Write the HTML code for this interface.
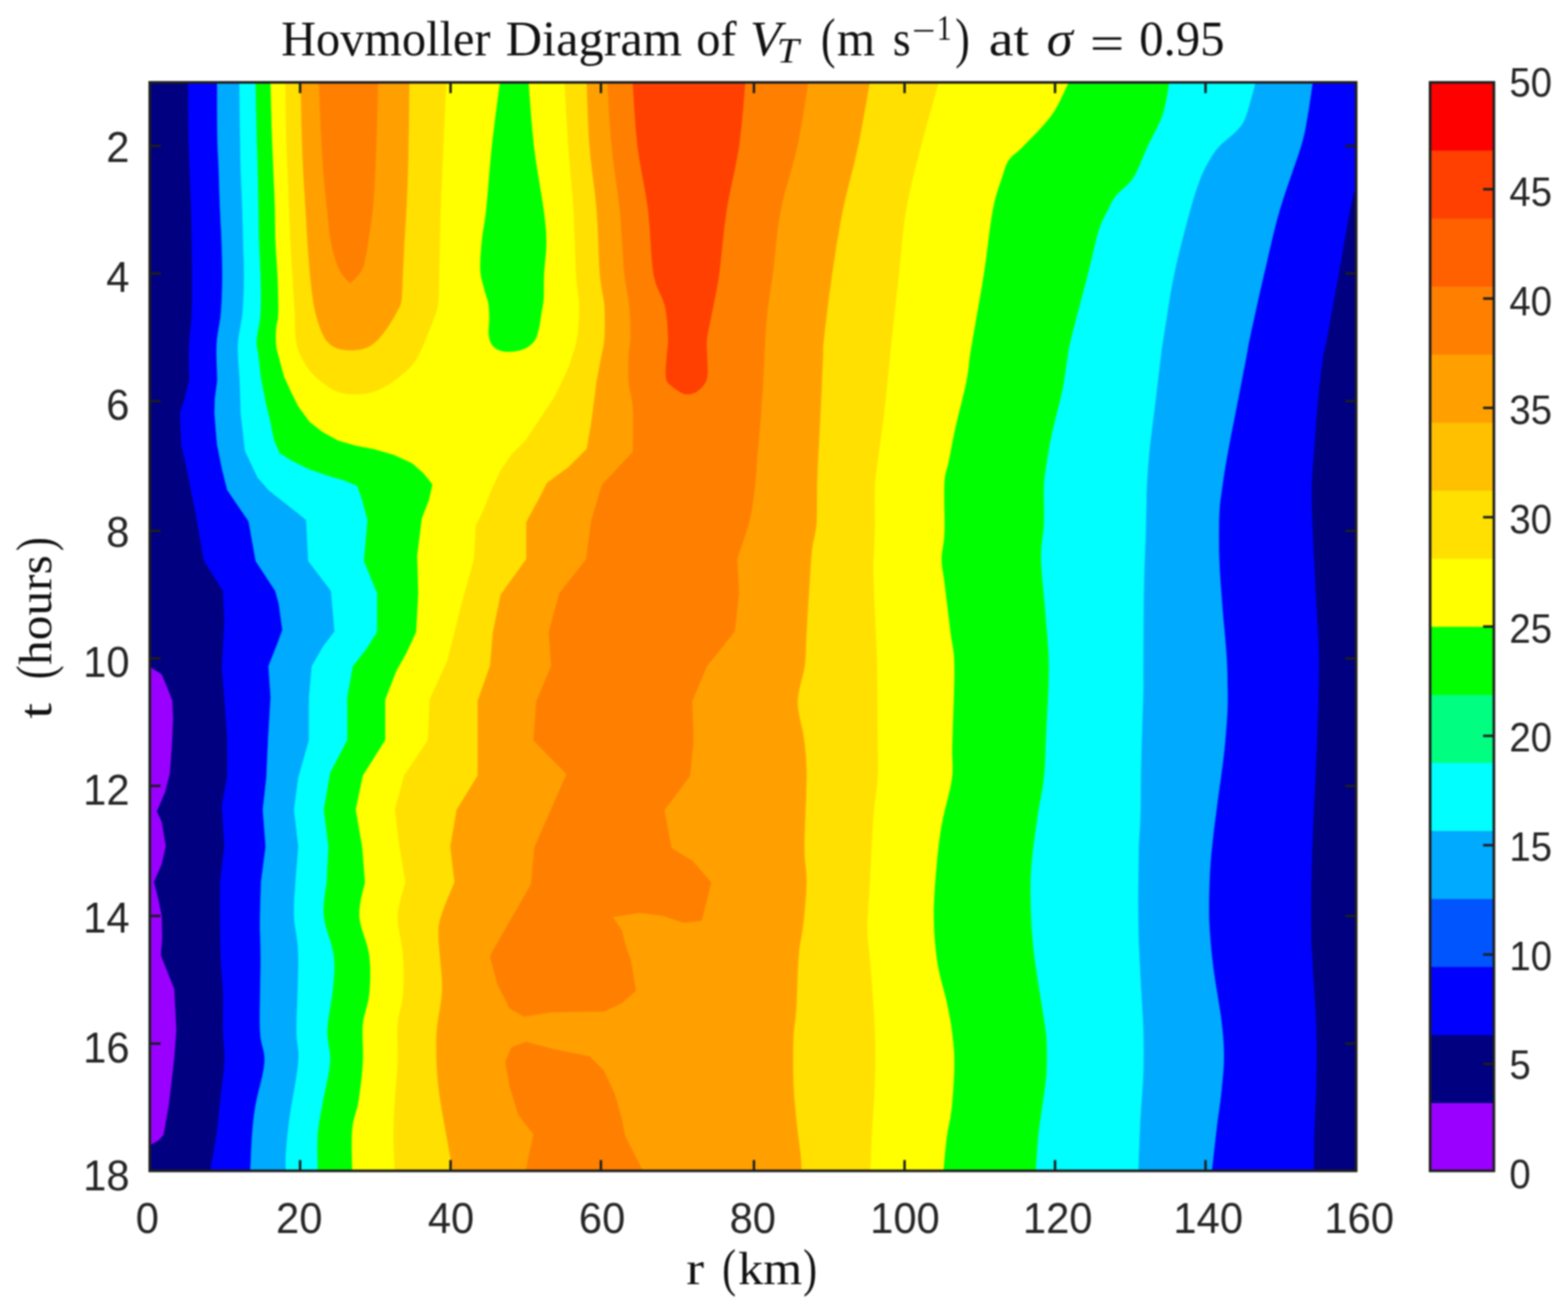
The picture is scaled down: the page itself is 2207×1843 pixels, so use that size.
<!DOCTYPE html>
<html lang="en"><head><meta charset="utf-8"><title>Hovmoller Diagram of VT at sigma = 0.95</title>
<style>
html,body{margin:0;padding:0;background:#fff;}
body{width:2207px;height:1843px;overflow:hidden;}
svg{display:block;}
.sans{font-family:"Liberation Sans",sans-serif;fill:#262626;}
.serif{font-family:"Liberation Serif",serif;fill:#111;}
</style></head><body>
<svg width="2207" height="1843" viewBox="0 0 2207 1843">
<rect x="0" y="0" width="2207" height="1843" fill="#ffffff"/>
<defs><clipPath id="plotclip"><rect x="210.8" y="116" width="1698" height="1532.5"/></clipPath>
<filter id="soft" x="0" y="0" width="2207" height="1843" filterUnits="userSpaceOnUse" color-interpolation-filters="sRGB"><feGaussianBlur stdDeviation="0.8"/></filter></defs>
<g filter="url(#soft)">
<rect x="-20" y="-20" width="2247" height="1883" fill="#ffffff"/>
<g clip-path="url(#plotclip)">
<rect x="208.8" y="114" width="1702" height="1536.5" fill="#000080"/>
<polygon fill="#0000ff" stroke="#0000ff" stroke-width="0.6" stroke-linejoin="round" points="265,110 265,109.9 265,109 265,108.4 265,108.7 265,111 265,116 265,124.7 265.1,136.5 265.2,150.2 265.2,164.6 265.4,178.3 265.5,190 265.7,199.7 265.9,208.4 266.2,216.5 266.4,224.2 266.7,231.9 267,240 267.3,248.3 267.7,256.6 268,264.9 268.4,273.3 268.7,281.6 269,290 269.2,298.5 269.4,307 269.6,315.5 269.7,324 269.9,332.5 270,341 270.1,349.4 270.2,357.7 270.3,366.1 270.4,374.4 270.5,382.7 270.5,391 270.5,399.3 270.5,407.7 270.5,416 270.5,424.3 270.3,432.7 270,441 269.5,449.4 268.8,457.9 267.9,466.4 267.1,474.8 266.4,483 266,491 265.8,499.2 265.9,507.7 266,516.1 266.2,523.8 266.4,530.3 266.5,535 260,562 253.5,581 255.5,627 264,665 275,720 284,772 287.5,790 314,832 316,875 312.5,940 316,982 320,1040 320,1092 312.5,1135 316,1192 310,1242 310,1248.4 310,1257.3 309.9,1267.9 309.9,1279.1 309.9,1290.1 310,1300 310.1,1308.8 310.2,1317.3 310.3,1325.5 310.5,1333.6 310.7,1341.8 311,1350 311.4,1358.3 312,1366.7 312.6,1375 313.1,1383.3 313.7,1391.7 314,1400 314.2,1408.4 314.1,1416.9 314.1,1425.3 314,1433.7 313.9,1442 314,1450 314.3,1457.7 314.8,1465 315.4,1472.2 315.9,1479.4 316.1,1487 316,1495 315.5,1503.7 314.6,1512.9 313.4,1522.4 312.2,1531.9 311,1541.2 310,1550 309.2,1558.2 308.4,1566.1 307.7,1573.7 306.9,1581.3 306.1,1589 305,1597 303.6,1605.9 302,1615.7 300.2,1625.6 298.5,1634.9 297,1642.9 296,1649 295.5,1652.7 295.3,1654.6 295.4,1655.2 295.7,1655.1 295.9,1654.9 296,1655 1849,1655 1849,1655 1849,1655.5 1848.9,1655.9 1848.9,1655.4 1848.9,1653.3 1849,1649 1849.1,1641.9 1849.2,1632.5 1849.3,1621.5 1849.5,1609.7 1849.7,1598 1850,1587 1850.4,1576.8 1850.8,1566.8 1851.3,1556.8 1851.8,1546.6 1852.2,1536.1 1852.5,1525 1852.7,1513.4 1852.9,1501.4 1853,1489.1 1853,1476.4 1852.8,1463.4 1852.5,1450 1851.9,1435.6 1851.1,1419.9 1850.1,1403.9 1849.1,1388.4 1848.2,1374.2 1847.5,1362 1847,1352.7 1846.5,1345.6 1846.2,1339.9 1845.9,1334.4 1845.7,1328.1 1845.5,1320 1845.4,1310 1845.3,1298.9 1845.2,1287.1 1845.3,1274.7 1845.4,1262.3 1845.5,1250 1845.7,1237.8 1846,1225.4 1846.3,1212.8 1846.6,1200.2 1847.1,1187.6 1847.5,1175 1848,1162.8 1848.5,1150.9 1849.1,1139.1 1849.7,1126.9 1850.4,1113.9 1851,1100 1851.7,1084.5 1852.4,1067.8 1853.2,1050.3 1853.9,1032.8 1854.5,1015.8 1855,1000 1855.4,985.4 1855.7,971.5 1856,958.1 1856.1,945.2 1856.1,932.5 1856,920 1855.7,908.1 1855.2,897 1854.6,886.2 1853.9,875.2 1853.2,863.3 1852.5,850 1851.7,834.6 1850.8,817.5 1849.9,799.6 1849,781.7 1848.1,764.9 1847.5,750 1847,737.3 1846.5,726.2 1846.2,716.1 1846,706.6 1845.9,697 1846,687 1846.3,676.6 1846.9,666.3 1847.6,656 1848.4,645.7 1849.2,635.4 1850,625 1850.8,614.5 1851.5,603.9 1852.3,593.3 1853.1,582.7 1854,572.3 1855,562 1856.1,551.6 1857.2,540.9 1858.5,530.2 1859.7,520.1 1860.9,510.9 1862,503 1862.9,497.4 1863.5,494 1864.2,491.4 1864.9,488.5 1866,483.8 1867.5,476 1869.6,464.6 1872.2,450.7 1875.1,434.9 1878.1,418.3 1881.2,401.7 1884,386 1886.8,370.4 1889.6,353.9 1892.5,337.5 1895.2,321.9 1897.7,307.8 1900,296 1901.8,287.1 1903.3,280.6 1904.5,275.7 1905.7,271.5 1907.2,267.2 1909,262 1911.4,255.6 1914.4,248.5 1917.6,241.4 1920.6,234.7 1923.2,229.1 1925,225 1925,110"/>
<polygon fill="#00aaff" stroke="#00aaff" stroke-width="0.6" stroke-linejoin="round" points="305.8,110 305.8,109.9 305.8,109 305.8,108.4 305.8,108.7 305.8,111 305.8,116 305.8,124.7 305.8,136.5 305.8,150.2 305.8,164.6 305.9,178.3 306,190 306.2,199.7 306.5,208.4 306.9,216.5 307.3,224.2 307.7,231.9 308,240 308.3,248.3 308.5,256.6 308.8,264.9 309,273.3 309.3,281.6 309.6,290 310,298.5 310.4,307 310.8,315.5 311.3,324 311.7,332.5 312,341 312.3,349.4 312.5,357.7 312.8,366.1 312.9,374.4 313,382.7 313,391 312.9,399.4 312.7,407.9 312.4,416.4 312.1,424.8 311.6,433 311,441 310.2,448.6 309,455.9 307.8,463 306.6,470.1 305.6,477.4 305,485 304.8,493.6 304.9,503.1 305.1,512.8 305.5,521.8 305.8,529.5 306,535 302.5,562 302,582 305.5,625 312.5,660 320,690 350,734 360,790 387.5,832 392.5,850 397.5,887 391,905 378,938 381,982 377.5,1040 375,1095 370,1140 374,1192 367.5,1242 367.3,1248.4 367,1257.3 366.7,1267.9 366.4,1279.1 366.1,1290.1 366,1300 366,1308.2 366.2,1315.4 366.5,1322.4 366.7,1329.9 366.9,1338.9 367,1350 366.9,1364.4 366.5,1381.7 366.2,1400.3 365.9,1418.9 365.8,1435.9 366,1450 366.9,1460.5 368.3,1468.5 370,1475 371.5,1480.9 372.4,1487.3 372.5,1495 371.4,1504.3 369.5,1514.6 367,1525.2 364.3,1535.8 361.9,1545.9 360,1555 358.7,1562.9 357.7,1570 356.9,1576.5 356.2,1582.9 355.6,1589.6 355,1597 354.4,1605.6 353.9,1615.3 353.4,1625.2 353.1,1634.7 352.7,1642.9 352.5,1649 352.4,1652.7 352.3,1654.6 352.3,1655.2 352.4,1655.1 352.5,1654.9 352.5,1655 1705,1655 1705,1655 1704.9,1655.5 1704.8,1655.9 1704.8,1655.4 1705,1653.3 1705.5,1649 1706.3,1641.8 1707.4,1632 1708.6,1620.8 1710,1608.9 1711.3,1597.3 1712.5,1587 1713.6,1578 1714.8,1569.4 1716,1561.2 1717.1,1553.2 1718.1,1545.2 1719,1537 1719.8,1528.7 1720.6,1520.3 1721.4,1512 1722,1503.7 1722.4,1495.3 1722.5,1487 1722.4,1479 1722.1,1471.3 1721.7,1463.6 1721,1455.5 1720.1,1446.8 1719,1437 1717.5,1425.8 1715.5,1413.4 1713.4,1400.2 1711.2,1387 1709.2,1374 1707.5,1362 1706.2,1350.8 1705,1339.9 1704,1329.4 1703.2,1319.3 1702.5,1309.5 1702,1300 1701.6,1291 1701.5,1282.4 1701.5,1274.2 1701.6,1266.2 1701.8,1258.2 1702,1250 1702.3,1241.8 1702.6,1233.8 1703,1225.8 1703.6,1217.6 1704.2,1209.1 1705,1200 1706,1190.4 1707.1,1180.4 1708.3,1170.1 1709.6,1159.4 1711.1,1148.3 1712.5,1137 1714.1,1125 1715.8,1112.4 1717.7,1099.4 1719.4,1086.5 1721.1,1073.9 1722.5,1062 1723.7,1050.7 1724.7,1039.6 1725.6,1028.8 1726.4,1018.6 1727,1008.9 1727.5,1000 1727.8,992.1 1727.9,985 1727.9,978.6 1727.8,972.5 1727.6,966.4 1727.5,960 1727.4,953.7 1727.3,947.8 1727.1,941.9 1726.9,935.6 1726.5,928.4 1726,920 1725.2,910 1724.3,898.6 1723.2,886.4 1722,873.9 1720.9,861.6 1720,850 1719.2,839.1 1718.4,828.4 1717.6,818 1717,807.7 1716.4,797.4 1716,787 1715.7,776.3 1715.6,765.4 1715.5,754.4 1715.6,743.9 1715.7,733.9 1716,725 1716.4,717.4 1716.9,710.9 1717.5,705.1 1718.3,699.4 1719.1,693.6 1720,687 1721,679.9 1722.1,672.7 1723.2,665.2 1724.5,657.3 1725.9,649 1727.5,640 1729.3,630.3 1731.2,619.9 1733.3,609.1 1735.5,597.9 1737.8,586.4 1740,575 1742.4,562.9 1744.9,549.9 1747.5,536.6 1749.9,523.9 1752.2,512.5 1754,503 1755.2,496.6 1755.8,493 1756.1,490.6 1756.6,488 1757.4,483.6 1759,476 1761.4,464.6 1764.5,450.7 1767.9,434.9 1771.6,418.3 1775.4,401.7 1779,386 1782.5,371 1785.9,356 1789.4,341 1793,326 1796.8,311 1801,296 1805.8,280.5 1811.2,264.3 1816.8,248.1 1822.2,232.6 1827.1,218.3 1831,206 1833.8,196 1835.8,188 1837.2,181.2 1838.3,175.1 1839.3,168.9 1840.5,162 1841.9,154 1843.2,145.3 1844.5,136.6 1845.7,128.4 1846.7,121.4 1847.5,116 1848,112.6 1848.3,110.8 1848.4,110.1 1848.5,110.1 1848.5,110.2 1848.5,110"/>
<polygon fill="#00ffff" stroke="#00ffff" stroke-width="0.6" stroke-linejoin="round" points="337,110 337,109.9 337,109 336.9,108.4 336.9,108.7 336.9,111 337,116 337.1,124.7 337.3,136.5 337.4,150.2 337.6,164.6 337.8,178.3 338,190 338.2,199.7 338.3,208.4 338.4,216.5 338.6,224.2 338.8,231.9 339,240 339.3,248.3 339.6,256.6 340,264.9 340.3,273.3 340.7,281.6 341,290 341.3,298.5 341.5,307 341.8,315.5 342,324 342.2,332.5 342.4,341 342.6,349.4 342.9,357.7 343.2,366.1 343.5,374.4 343.6,382.7 343.6,391 343.5,399.4 343.3,407.9 343,416.4 342.6,424.8 342.1,433 341.5,441 340.6,448.6 339.3,455.9 338,463 336.7,470.1 335.6,477.4 335,485 334.9,493.6 335.3,503.1 335.8,512.8 336.5,521.8 337.1,529.5 337.5,535 339,582 345,635 362.5,672 378,690 406,712 431,732 434,790 466,832 471,889 455,910 439,938 435,982 435,1042 420,1095 414,1140 420,1192 416,1242 415.7,1247.1 415.2,1254.2 414.6,1262.6 414.1,1271.7 413.9,1281 414,1290 414.6,1298.2 415.7,1306 417,1313.9 418.3,1322.7 419.4,1332.9 420,1345 420,1360.3 419.6,1378.5 419,1398.1 418.3,1417.6 417.7,1435.4 417.5,1450 417.8,1460.6 418.5,1468.1 419.4,1474.1 420.1,1479.6 420.4,1486.2 420,1495 418.7,1506.7 416.7,1520.2 414.2,1534.7 411.7,1549.3 409.3,1563 407.5,1575 406.2,1585.4 405.1,1594.9 404.2,1603.5 403.5,1611.4 403,1618.5 402.5,1625 402.2,1630.7 402.1,1635.6 402.2,1639.8 402.3,1643.3 402.4,1646.3 402.5,1649 402.5,1651.1 402.5,1652.6 402.5,1653.5 402.5,1654.1 402.5,1654.6 402.5,1655 1602,1655 1602,1655.1 1601.9,1656 1601.8,1656.6 1601.8,1656.3 1601.8,1654 1602,1649 1602.3,1640.5 1602.7,1629 1603.2,1615.6 1603.8,1601.4 1604.4,1587.5 1605,1575 1605.7,1563.9 1606.4,1553.1 1607.2,1542.8 1607.9,1532.5 1608.6,1522.3 1609,1512 1609.3,1501.8 1609.4,1491.7 1609.5,1481.8 1609.4,1471.6 1609.3,1461.1 1609,1450 1608.6,1438.3 1607.9,1426 1607.2,1413.3 1606.4,1400.5 1605.7,1387.7 1605,1375 1604.4,1362.8 1603.8,1350.9 1603.2,1339.1 1602.7,1326.9 1602.3,1313.9 1602,1300 1601.9,1284.2 1601.8,1266.7 1601.9,1248.4 1602.1,1230.6 1602.3,1214.1 1602.5,1200 1602.8,1189.1 1603.2,1180.6 1603.7,1173.4 1604.2,1166.7 1604.6,1159.2 1605,1150 1605.2,1139.2 1605.4,1127.8 1605.5,1115.6 1605.6,1102.8 1605.7,1089.2 1606,1075 1606.4,1059.1 1607,1041.2 1607.6,1022.6 1608.1,1004.6 1608.7,988.3 1609,975 1609.2,966.1 1609.2,960.8 1609.1,957.3 1609,953.6 1609,947.8 1609,938 1609.1,923.1 1609.2,904.6 1609.3,883.9 1609.5,862.7 1609.7,842.5 1610,825 1610.3,810.2 1610.8,796.7 1611.2,784.4 1611.7,772.7 1612.1,761.4 1612.5,750 1612.8,738.7 1613,727.6 1613.2,716.9 1613.4,706.6 1613.6,696.6 1614,687 1614.4,678.1 1614.9,669.8 1615.4,661.9 1616,654.1 1616.7,645.9 1617.5,637 1618.5,627.5 1619.6,617.7 1620.9,607.6 1622.2,597.1 1623.6,586.2 1625,575 1626.5,562.7 1628.1,549.1 1629.8,535.1 1631.4,521.7 1632.8,509.7 1634,500 1634.8,493.8 1635.1,490.7 1635.4,488.9 1635.7,487 1636.3,483.2 1637.5,476 1639.2,464.8 1641.4,450.9 1643.8,435.1 1646.5,418.4 1649.4,401.8 1652.5,386 1655.9,370.5 1659.7,354.4 1663.8,338.2 1667.8,322.7 1671.6,308.5 1675,296 1678,285.5 1680.6,276.6 1683.1,268.9 1685.5,262.1 1687.7,255.9 1690,250 1692.2,244.5 1694.3,239.9 1696.3,235.8 1698.4,232.1 1700.4,228.6 1702.5,225 1704.5,221.5 1706.4,218.4 1708.4,215.4 1710.5,212.5 1713,209.4 1716,206 1719.8,202.2 1724.4,198.2 1729.4,194.1 1734.3,189.9 1738.8,185.8 1742.5,182 1745.3,178.7 1747.4,176 1749.1,173.4 1750.6,170.4 1752.2,166.8 1754,162 1756.2,155.4 1758.6,147.1 1761.1,138.1 1763.5,129.3 1765.5,121.7 1767,116 1767.9,112.6 1768.4,110.8 1768.6,110.1 1768.5,110.1 1768.5,110.2 1768.5,110"/>
<polygon fill="#00ff00" stroke="#00ff00" stroke-width="0.6" stroke-linejoin="round" points="360,110 360,109.9 359.9,109 359.9,108.4 359.9,108.7 359.9,111 360,116 360.2,124.7 360.4,136.5 360.7,150.2 361,164.6 361.3,178.3 361.6,190 361.8,199.7 362.1,208.4 362.3,216.5 362.6,224.2 362.8,231.9 363,240 363.2,248.3 363.4,256.6 363.5,264.9 363.7,273.3 363.8,281.6 364,290 364.2,298.5 364.3,307 364.4,315.5 364.6,324 364.8,332.5 365,341 365.3,349.4 365.7,357.7 366.1,366.1 366.4,374.4 366.8,382.7 367,391 367.2,399.5 367.4,408.1 367.5,416.7 367.5,425.1 367.3,433.3 367,441 366.3,448.4 365.3,455.5 364.1,462.4 362.9,468.8 362,474.7 361.5,480 361.4,484.3 361.7,487.6 362.2,490.4 362.8,493.1 363.4,496.2 364,500 364.6,505 365.2,511 365.9,517.2 366.6,523.3 367.1,528.4 367.5,532 375,570 380,590 386,620 394,638 410,648 434,660 460,669 484,676 503,684 510,704 517.5,732 512.5,790 531,835 531,890 515,915 497,938 489,982 489,1042 465,1088 456,1140 462.5,1192 460,1242 459.4,1247.1 458.3,1254.2 457.1,1262.6 456.1,1271.7 455.7,1281 456,1290 457.5,1298.9 459.9,1308.1 462.8,1317.6 465.8,1327 468.3,1336.2 470,1345 470.8,1353.2 471,1360.9 470.9,1368.3 470.4,1375.8 469.7,1383.6 469,1392 467.9,1401.2 466.4,1411 464.7,1421.1 463,1431.2 461.7,1441 461,1450 461.1,1458.1 462,1465.6 463.1,1472.7 464.3,1479.7 465,1487.1 465,1495 464.1,1503.7 462.6,1512.9 460.7,1522.4 458.7,1531.9 456.7,1541.2 455,1550 453.5,1558.2 452,1566.1 450.6,1573.7 449.4,1581.3 448.3,1589 447.5,1597 447.1,1605.9 446.9,1615.7 447,1625.6 447.2,1634.9 447.4,1642.9 447.5,1649 447.5,1652.7 447.5,1654.6 447.5,1655.2 447.5,1655.1 447.5,1654.9 447.5,1655 1457,1655 1457,1654.8 1457,1655 1457,1655.1 1457.1,1654.4 1457.2,1652.6 1457.5,1649 1457.9,1643.2 1458.4,1635.4 1459,1626.5 1459.6,1617.1 1460.3,1608 1461,1600 1461.7,1593.2 1462.5,1587 1463.3,1581.1 1464.2,1575.1 1465.1,1568.9 1466,1562 1467.1,1554.4 1468.3,1546.2 1469.6,1537.8 1470.8,1529.1 1471.8,1520.5 1472.5,1512 1472.9,1503.5 1473.2,1494.9 1473.2,1486.2 1473.1,1477.7 1472.9,1469.6 1472.5,1462 1472,1455.5 1471.4,1450.1 1470.7,1445.1 1469.8,1439.7 1468.8,1433.2 1467.5,1425 1465.9,1414.5 1463.9,1402.3 1461.8,1388.9 1459.6,1375.3 1457.6,1362.1 1456,1350 1454.7,1339.2 1453.7,1329.1 1452.8,1319.4 1452.1,1309.8 1451.5,1300.1 1451,1290 1450.6,1279.6 1450.3,1269.1 1450.1,1258.4 1450.1,1247.6 1450.4,1236.5 1451,1225 1452,1212.8 1453.3,1200 1454.9,1186.9 1456.7,1173.9 1458.4,1161.5 1460,1150 1461.6,1139.8 1463.2,1130.7 1464.8,1122.2 1466.4,1113.7 1467.8,1104.8 1469,1095 1469.9,1084.4 1470.6,1073.4 1471.1,1062 1471.5,1050.1 1472,1037.8 1472.5,1025 1473.2,1011.4 1474,996.9 1474.8,981.9 1475.5,966.8 1475.9,952.1 1476,938 1475.7,924.7 1475,911.8 1474.1,899.2 1473.1,886.9 1472,874.5 1471,862 1469.9,849.2 1468.7,836 1467.4,822.9 1466.3,810.1 1465.4,798 1465,787 1465.1,777.2 1465.7,768.6 1466.6,760.6 1467.6,752.9 1468.4,745.2 1469,737 1469.2,728.2 1469.2,719 1469,709.8 1468.9,700.8 1468.8,692.4 1469,685 1469.3,678.9 1469.8,673.9 1470.3,669.4 1470.9,665.1 1471.6,660.5 1472.5,655 1473.4,648.8 1474.4,642.3 1475.5,635.5 1476.8,628.2 1478.3,620.4 1480,612 1482.2,602.6 1484.7,592.1 1487.5,581.1 1490.3,570.1 1492.9,559.6 1495,550 1496.6,541.3 1498,533.1 1499.1,525.4 1500.1,518.2 1501,511.4 1502,505 1502.8,499.9 1503.3,496.4 1503.7,493.3 1504.4,489.6 1505.6,484.2 1507.5,476 1510.5,464.2 1514.3,449.4 1518.7,433 1523.1,416.1 1527.4,400 1531,386 1534,373.8 1536.7,362.3 1539.2,351.7 1541.5,341.9 1543.7,333 1546,325 1548.3,318.2 1550.5,312.7 1552.7,308 1554.8,303.9 1556.9,300 1559,296 1560.9,292.1 1562.6,288.6 1564.3,285.2 1566.1,282 1568.3,278.6 1571,275 1574.4,271.3 1578.3,267.7 1582.5,263.9 1586.9,259.9 1591.1,255.3 1595,250 1598.6,243.8 1601.9,236.7 1605.2,229.2 1608.4,221.4 1611.7,213.6 1615,206 1618.6,198.7 1622.4,191.4 1626.2,184.1 1629.8,176.8 1633.2,169.4 1636,162 1638.3,154 1640.3,145.3 1642,136.6 1643.4,128.4 1644.5,121.4 1645.5,116 1646.2,112.6 1646.5,110.8 1646.6,110.1 1646.6,110.1 1646.5,110.2 1646.5,110"/>
<polygon fill="#ffff00" stroke="#ffff00" stroke-width="0.6" stroke-linejoin="round" points="381,110 381,109.9 380.9,109 380.9,108.4 380.9,108.7 380.9,111 381,116 381.2,124.7 381.5,136.5 381.9,150.2 382.3,164.6 382.6,178.3 383,190 383.3,199.7 383.7,208.4 384,216.5 384.3,224.2 384.7,231.9 385,240 385.3,248.3 385.7,256.6 386.1,264.9 386.4,273.3 386.7,281.6 387,290 387.2,298.5 387.3,307 387.4,315.5 387.6,324 387.7,332.5 388,341 388.4,349.4 388.9,357.7 389.5,366.1 390.1,374.4 390.6,382.7 391,391 391.3,399.7 391.6,408.7 391.9,417.8 392,426.5 392.1,434.3 392,441 391.7,446.1 391.2,450 390.6,453.1 389.9,455.9 389.4,458.7 389,462 388.8,465.9 388.6,470 388.6,474.2 388.6,478.3 388.7,482.3 389,486 389.4,489.3 389.9,492.1 390.6,494.9 391.3,497.6 392.1,500.6 393,504 394.1,508.2 395.4,513 396.8,518.1 398.1,523 399.2,527.1 400,530 410,552 420,572 436,594 454,608 476,620 500,627 526,632 554,640 580,652 596,666 609,682 604,704 594,730 587.5,782 589,835 586,890 572,920 558,945 542.5,985 542.5,1042 511,1092 501,1140 510,1192 514,1242 512.9,1247.1 511.1,1254.2 509.1,1262.6 507.3,1271.7 506.2,1281 506,1290 507.2,1298.8 509.6,1307.8 512.5,1317.1 515.6,1326.4 518.2,1335.8 520,1345 520.9,1354.3 521.4,1363.8 521.4,1373.3 521.2,1382.6 520.7,1391.6 520,1400 518.9,1407.6 517.3,1414.6 515.5,1421.1 513.7,1427.7 512.1,1434.5 511,1442 510.5,1450.2 510.6,1458.8 510.8,1467.7 511.1,1476.8 511.2,1485.9 511,1495 510.4,1504.2 509.6,1513.7 508.6,1523.3 507.4,1532.7 506.2,1541.7 505,1550 503.6,1557.3 501.9,1563.7 500.1,1569.8 498.4,1575.8 497,1582.4 496,1590 495.5,1599.3 495.3,1610.2 495.4,1621.6 495.7,1632.6 495.9,1642 496,1649 496,1653.1 496,1655.1 496,1655.7 496,1655.4 496,1655 496,1655 1327,1655 1327,1654.8 1327,1655 1326.9,1655.1 1327,1654.4 1327.2,1652.6 1327.5,1649 1328.1,1643.2 1328.8,1635.4 1329.6,1626.5 1330.6,1617.1 1331.5,1608 1332.5,1600 1333.5,1593.3 1334.6,1587.4 1335.8,1581.8 1337,1576 1338,1569.6 1339,1562 1339.9,1552.9 1340.8,1542.5 1341.6,1531.4 1342.3,1520.3 1342.8,1509.6 1343,1500 1343,1491.5 1342.7,1483.7 1342.2,1476.3 1341.6,1469.2 1340.8,1462.2 1340,1455 1339.1,1447.9 1338.1,1441 1336.9,1434.2 1335.6,1427.3 1334.1,1420 1332.5,1412 1330.5,1403.4 1328.1,1394.3 1325.6,1384.9 1323.1,1375.1 1320.8,1365.1 1319,1355 1317.6,1344.6 1316.4,1333.9 1315.4,1323 1314.7,1312 1314.2,1300.9 1314,1290 1314,1279.1 1314.4,1268.3 1315,1257.4 1315.7,1246.5 1316.6,1235.7 1317.5,1225 1318.4,1214.4 1319.4,1203.9 1320.6,1193.5 1321.8,1183.1 1323.3,1172.6 1325,1162 1327.2,1151.1 1329.8,1139.8 1332.7,1128.5 1335.4,1117.4 1337.8,1106.8 1339.5,1097 1340.4,1088.9 1340.6,1082.4 1340.5,1076.4 1340.2,1069.8 1339.9,1061.4 1340,1050 1340.5,1034.4 1341.1,1015.1 1341.9,994.1 1342.5,973 1343,953.7 1343,938 1342.6,926.6 1341.9,918.1 1341,911.4 1339.9,905.3 1338.7,898.5 1337.5,890 1336.2,879.2 1334.7,866.9 1333.2,854.1 1331.6,841.4 1330.2,829.8 1329,820 1328,812.4 1327,806.4 1326.2,801.4 1325.6,796.9 1325.2,792.3 1325,787 1325.2,781.4 1325.9,776.2 1326.8,770.8 1327.7,764.9 1328.5,758.1 1329,750 1329.2,739.8 1329.1,727.6 1328.9,714.6 1328.7,701.6 1328.7,689.7 1329,680 1329.6,672.9 1330.4,667.8 1331.4,663.8 1332.5,660 1333.7,655.7 1335,650 1336.4,643 1337.9,635.3 1339.4,627.1 1341.1,618.4 1343,609.3 1345,600 1347.3,590 1350,579 1352.8,567.7 1355.6,556.6 1358,546.1 1360,537 1361.4,529.2 1362.4,522.3 1363.2,516.1 1363.8,510.4 1364.3,505.1 1365,500 1365.6,496 1366,493.5 1366.3,491.3 1366.9,488.4 1367.7,483.7 1369,476 1371,464.8 1373.4,450.9 1376.2,435.1 1379.1,418.4 1382,401.8 1384.5,386 1386.8,370.5 1388.9,354.4 1390.9,338.2 1392.9,322.7 1394.9,308.5 1397,296 1399.2,285.5 1401.4,276.6 1403.7,268.9 1405.9,262.1 1408,255.9 1410,250 1411.7,244.5 1413.2,239.9 1414.6,235.8 1416,232.1 1417.8,228.6 1420,225 1422.5,221.8 1425.2,219.1 1428.1,216.7 1431.5,214 1435.4,210.5 1440,206 1445.7,200.1 1452.4,193.3 1459.8,185.7 1467.1,177.7 1474,169.7 1480,162 1485.2,154 1490,145.3 1494.3,136.6 1498.1,128.4 1501.4,121.4 1504,116 1505.8,112.6 1506.7,110.8 1507,110.1 1507,110.1 1506.9,110.2 1507,110"/>
<polygon fill="#00ff00" stroke="#00ff00" stroke-width="0.6" stroke-linejoin="round" points="704,105 704.1,105.3 704.3,104.9 704.6,104.9 704.7,106.1 704.4,109.5 703.8,116 702.5,126.4 700.7,140.1 698.6,156.1 696.4,173.1 694.3,190.1 692.5,206 691,221.6 689.5,237.8 688.2,254 686.9,269.6 685.7,283.8 684.5,296 683.3,305.8 682.2,313.6 681.1,320 680.1,325.8 679.3,331.6 678.5,338 677.8,345.2 677.2,352.6 676.7,360 676.3,367.2 676.1,373.9 676.2,380 676.7,385.3 677.4,390 678.4,394.3 679.4,398.3 680.5,402.1 681.5,406 682.5,409.8 683.6,413.3 684.7,416.7 685.8,420 686.8,423.4 687.5,427 688,430.8 688.4,434.6 688.7,438.6 688.9,442.5 688.9,446.3 689,450 688.9,453.6 688.6,457 688.3,460.4 688,463.7 687.8,466.9 688,470 688.4,473 688.9,475.9 689.6,478.8 690.5,481.4 691.6,483.8 693,486 694.6,487.9 696.6,489.5 698.7,491 701,492.2 703.5,493.2 706,494 708.7,494.6 711.7,494.9 714.8,495 718,495 721.1,494.8 724,494.5 726.8,494.1 729.6,493.6 732.4,492.9 735,492.1 737.6,491.1 740,490 742.3,488.7 744.5,487.3 746.6,485.7 748.6,484 750.4,482.1 752,480 753.4,477.8 754.5,475.4 755.5,472.9 756.4,470.1 757.2,467.2 758,464 758.8,460.4 759.5,456.4 760.2,452.2 760.8,448 761.4,443.9 762,440 762.6,436.6 763.2,433.6 763.7,430.6 764.2,427.6 764.7,424.1 765,420 765.2,415.3 765.2,410.1 765.2,404.6 765.2,398.7 765.3,392.5 765.5,386 766,379.1 766.6,371.8 767.4,364.2 768.1,356.4 768.6,348.6 768.8,341 768.6,334 768.4,327.7 767.9,321.3 767.2,314.3 766.3,306.1 765,296 763.2,283.6 760.9,269.3 758.4,253.8 755.7,237.7 753.3,221.5 751.2,206 749.6,190.1 748,173.1 746.7,156.1 745.5,140.1 744.5,126.4 743.8,116 743.3,109.5 743.1,106.1 743.2,104.9 743.3,104.9 743.4,105.3 743.5,105"/>
<polygon fill="#ffe000" stroke="#ffe000" stroke-width="0.6" stroke-linejoin="round" points="402,105 402,105.5 402,105.5 401.9,105.9 401.9,107.3 401.9,110.4 402,116 402.1,125 402.2,136.9 402.4,150.6 402.6,164.8 402.8,178.3 403,190 403.3,199.7 403.6,208.4 403.9,216.5 404.3,224.2 404.7,231.9 405,240 405.3,248.3 405.7,256.6 406,264.9 406.3,273.3 406.7,281.6 407,290 407.3,298.5 407.6,307 407.9,315.5 408.3,324 408.6,332.5 409,341 409.4,349.4 409.9,357.8 410.4,366.1 411,374.4 411.5,382.7 412,391 412.5,399.5 413.1,408.4 413.7,417.2 414.2,425.7 414.6,433.4 415,440 415.2,445.2 415.3,449.3 415.3,452.6 415.3,455.5 415.3,458.5 415.5,462 415.7,465.9 416,470 416.3,474.1 416.7,478.2 417.2,482.2 418,486 419,489.6 420.1,493 421.4,496.4 422.8,499.6 424.4,502.8 426,506 427.7,509.1 429.5,512.2 431.4,515.2 433.4,518.2 435.6,521.1 438,524 440.7,526.8 443.6,529.7 446.6,532.4 449.8,535.1 452.9,537.6 456,540 459,542.2 461.9,544.3 464.8,546.2 467.7,548 470.8,549.6 474,551 477.4,552.1 481,553.1 484.6,553.8 488.4,554.4 492.2,554.8 496,555 499.9,555.1 504,555 508.1,554.8 512.2,554.3 516.2,553.8 520,553 523.6,552.1 527,551 530.2,549.7 533.5,548.3 536.7,546.7 540,545 543.3,543.2 546.7,541.2 550,539.1 553.3,536.9 556.7,534.5 560,532 563.4,529.3 567,526.4 570.5,523.4 573.9,520.3 577.1,517.2 580,514 582.5,510.8 584.7,507.6 586.6,504.4 588.4,501 590.2,497.6 592,494 593.8,490.2 595.6,486.1 597.2,482 598.9,477.9 600.5,473.8 602,470 603.5,466.4 604.9,463 606.2,459.8 607.6,456.5 608.8,453.3 610,450 611.2,446.8 612.3,443.7 613.4,440.6 614.4,437.4 615.3,433.9 616,430 616.5,426.4 616.8,423.5 617,420.2 617.1,415.9 617.2,409.4 617.5,400 617.8,386.8 618.2,370.3 618.6,351.8 619,332.4 619.5,313.4 620,296 620.5,280.2 621.1,265 621.8,250.1 622.4,235.5 623.1,220.8 623.8,206 624.5,190.1 625.3,173.1 626.1,156.1 626.9,140.1 627.5,126.4 628,116 628.2,109.5 628.3,106.1 628.3,104.9 628.2,104.9 628,105.3 628,105"/>
<polygon fill="#ffe000" stroke="#ffe000" stroke-width="0.6" stroke-linejoin="round" points="795,110 794.9,109.7 794.8,108.4 794.7,107.4 794.6,107.6 794.7,110.1 795,116 795.5,126.1 796.2,139.8 797,155.8 798,172.9 799,190 800,206 801.2,221 802.5,236 803.8,251 805.2,266 806.5,281 807.5,296 808.3,311.5 808.9,327.7 809.4,343.8 809.9,359.3 810.4,373.6 811,386 811.8,396.1 812.7,404.3 813.7,411.3 814.5,417.7 815.2,424 815.5,431 815.5,438.7 815.2,446.8 814.7,454.8 814,462.6 813.3,469.7 812.5,476 811.6,481.3 810.6,485.8 809.4,489.7 808.3,493.2 807.1,496.6 806,500 805,503.3 804.1,506.3 803.2,509.1 802.3,511.9 801.2,514.8 800,518 798.4,521.7 796.6,525.9 794.6,530.1 792.7,534.1 791.1,537.6 790,540 780,560 760,590 740,620 720,640 704,664 692,690 680,720 670,740 667.5,787 650,850 640,890 630,930 605,985 602.5,1042 569,1092 556,1140 562.5,1192 571,1242 569.6,1247.1 567.5,1254.2 565,1262.6 562.7,1271.7 560.9,1281 560,1290 560.3,1298.8 561.4,1307.8 563.1,1317.1 564.9,1326.4 566.5,1335.8 567.5,1345 568,1354.3 568.3,1363.8 568.4,1373.3 568.3,1382.6 568,1391.6 567.5,1400 566.6,1407.6 565.3,1414.6 563.8,1421.1 562.2,1427.7 560.9,1434.5 560,1442 559.6,1450.2 559.6,1458.8 559.8,1467.7 560,1476.8 560.1,1485.9 560,1495 559.5,1504.1 558.9,1513.4 558.1,1522.7 557.3,1532 556.6,1541.1 556,1550 555.5,1558.6 555,1567.1 554.6,1575.4 554.3,1583.6 554.1,1591.8 554,1600 554.1,1608.7 554.4,1618 554.9,1627.2 555.3,1635.9 555.7,1643.3 556,1649 556.1,1652.6 556.1,1654.4 556.1,1655.1 556.1,1655 556,1654.8 556,1655 1224.5,1655 1224.5,1655 1224.4,1655.5 1224.3,1655.9 1224.3,1655.4 1224.3,1653.3 1224.5,1649 1224.8,1641.9 1225.3,1632.5 1225.8,1621.5 1226.4,1609.7 1226.9,1598 1227.5,1587 1228.1,1576.8 1228.8,1566.8 1229.4,1556.8 1230.1,1546.6 1230.6,1536.1 1231,1525 1231.3,1513.4 1231.5,1501.4 1231.6,1489.1 1231.6,1476.4 1231.4,1463.4 1231,1450 1230.3,1435.6 1229.4,1419.9 1228.2,1403.9 1227.1,1388.4 1226,1374.2 1225,1362 1224.2,1352.2 1223.4,1344.1 1222.6,1337.4 1222,1331.4 1221.4,1325.8 1221,1320 1220.7,1314.5 1220.6,1309.8 1220.6,1305.4 1220.6,1300.9 1220.8,1295.9 1221,1290 1221.3,1283.6 1221.7,1277 1222.2,1269.9 1222.7,1261.9 1223.3,1252.8 1224,1242 1224.7,1228.8 1225.5,1213.2 1226.3,1196.4 1227.2,1179.6 1228.1,1163.7 1229,1150 1230,1138.7 1231.1,1128.9 1232.3,1120.2 1233.4,1112 1234.3,1103.7 1235,1095 1235.4,1086.5 1235.5,1078.7 1235.4,1070.9 1235.3,1062.4 1235.1,1052.3 1235,1040 1234.9,1024.4 1234.8,1005.9 1234.7,985.8 1234.5,965.6 1234.3,946.5 1234,930 1233.6,916.2 1233.1,904 1232.6,893 1232,882.7 1231.5,872.5 1231,862 1230.6,851.2 1230.1,840.4 1229.7,829.9 1229.3,819.6 1229.1,809.6 1229,800 1229.1,791.1 1229.4,782.9 1229.9,775.1 1230.3,767.2 1230.7,758.9 1231,750 1231.1,740 1231,729 1230.9,717.7 1230.8,706.6 1230.8,696.1 1231,687 1231.4,679.8 1231.8,674.1 1232.4,669.2 1233.1,664.2 1233.9,658.1 1235,650 1236.4,639.6 1238,627.6 1239.8,614.6 1241.7,601 1243.4,587.7 1245,575 1246.4,562.6 1247.7,549.8 1248.9,537.1 1250.1,525.1 1251.1,514.2 1252,505 1252.7,498.5 1253,494.6 1253.3,491.8 1253.6,488.7 1254.1,483.9 1255,476 1256.3,464.5 1257.8,450.5 1259.6,434.8 1261.4,418.3 1263.3,401.7 1265,386 1266.5,371 1267.9,356 1269.3,341 1270.9,326 1272.7,311 1275,296 1277.8,281 1281,266 1284.6,251 1288.3,236 1292.1,221 1296,206 1300.2,190 1304.9,172.9 1309.7,155.8 1314.2,139.8 1318.1,126.1 1321,116 1322.7,110.1 1323.4,107.6 1323.6,107.4 1323.3,108.4 1323,109.7 1323,110"/>
<polygon fill="#ffa000" stroke="#ffa000" stroke-width="0.6" stroke-linejoin="round" points="423.6,105 423.6,105.5 423.5,105.5 423.5,105.9 423.5,107.3 423.5,110.4 423.6,116 423.7,125 423.9,136.9 424.2,150.6 424.4,164.8 424.7,178.3 425,190 425.3,199.7 425.6,208.4 425.9,216.5 426.2,224.2 426.6,231.9 427,240 427.4,248.3 427.9,256.6 428.4,264.9 429,273.3 429.5,281.6 430,290 430.5,298.5 431,307 431.4,315.5 431.9,324 432.4,332.5 433,341 433.6,349.5 434.2,358.1 434.9,366.8 435.6,375.2 436.3,383.3 437,391 437.7,398.2 438.5,405.1 439.2,411.8 440.1,418.1 441,424.1 442,430 443.1,435.6 444.4,441 445.7,446.2 447.1,451.1 448.5,455.7 450,460 451.5,464 453,467.8 454.6,471.2 456.3,474.4 458.1,477.4 460,480 462,482.3 464.1,484.3 466.4,486.1 468.7,487.6 471.3,488.9 474,490 477,491 480.2,491.7 483.6,492.3 487.1,492.7 490.6,492.9 494,493 497.4,492.9 500.8,492.7 504.2,492.3 507.6,491.7 510.9,491 514,490 516.9,488.9 519.6,487.6 522.2,486.1 524.8,484.3 527.4,482.3 530,480 532.7,477.3 535.4,474.2 538.1,470.9 540.8,467.3 543.4,463.7 546,460 548.6,456.1 551.1,451.9 553.7,447.6 556.1,443.4 558.2,439.5 560,436 561.4,433.3 562.5,431.2 563.3,429.4 563.9,427.6 564.5,425.2 565,422 565.4,418 565.7,413.6 565.9,408.8 566.1,403.4 566.2,397.5 566.5,391 566.9,383.8 567.2,375.8 567.7,367.2 568.1,358.4 568.5,349.6 569,341 569.5,332.5 570,324 570.5,315.5 571.1,307 571.6,298.5 572,290 572.4,281.6 572.8,273.3 573.1,264.9 573.4,256.6 573.7,248.3 574,240 574.2,231.9 574.4,224.2 574.6,216.5 574.7,208.4 574.8,199.7 575,190 575.2,178.3 575.4,164.8 575.6,150.6 575.7,136.9 575.9,125 576,116 576.1,110.4 576.1,107.3 576.1,105.9 576,105.5 576,105.5 576,105"/>
<polygon fill="#ffa000" stroke="#ffa000" stroke-width="0.6" stroke-linejoin="round" points="826,110 826,109.7 825.9,108.4 825.8,107.4 825.7,107.6 825.8,110.1 826,116 826.4,126.1 826.8,139.8 827.4,155.8 828.1,172.9 828.9,190 830,206 831.4,221 833.1,236 835,251 836.9,266 838.6,281 840,296 841,311.5 841.8,327.7 842.5,343.8 843.1,359.3 843.7,373.6 844.5,386 845.5,396.1 846.8,404.3 848,411.3 849.2,417.7 850.3,424 851,431 851.4,438.7 851.6,446.8 851.7,454.8 851.5,462.6 851.3,469.7 851,476 850.6,481.1 850.1,485.1 849.4,488.5 848.7,491.8 847.9,495.5 847,500 845.9,505.8 844.6,512.7 843.2,520 841.9,526.9 840.8,532.8 840,537 832.5,595 826,632 800,658 770,680 760,700 748,722 741,735 741,787 705,837 694,890 690,937 672.5,987 672.5,1092 643,1140 634,1192 640,1242 637.8,1247.4 634.5,1255.1 630.7,1264.1 626.9,1273.6 623.5,1282.5 621,1290 619.4,1295.6 618.4,1299.8 617.8,1303.5 617.5,1307.6 617.4,1312.8 617.5,1320 618,1329.7 619,1341.4 620.2,1354.2 621.4,1367.5 622.3,1380.3 622.5,1392 621.9,1402.6 620.6,1412.7 619.1,1422.4 617.4,1431.8 616,1441 615,1450 614.5,1458.8 614.3,1467.3 614.2,1475.5 614.4,1483.6 614.6,1491.8 615,1500 615.4,1507.9 615.9,1515.4 616.6,1522.8 617.4,1530.7 618.5,1539.6 620,1550 622.1,1563 624.8,1578.4 627.8,1594.8 630.7,1610.6 633.2,1624.5 635,1635 636,1641.5 636.4,1645.2 636.4,1646.9 636.3,1647.6 636.1,1648 636,1649 636.1,1650.5 636.1,1651.8 636.1,1652.9 636,1653.7 636,1654.4 636,1655 1128,1655 1128,1654.6 1128.1,1654.1 1128.1,1653.5 1128.1,1652.6 1128.1,1651.1 1128,1649 1127.9,1646.3 1127.8,1643.1 1127.6,1639.4 1127.4,1635.2 1127,1630.4 1126.5,1625 1125.8,1618.8 1124.9,1611.9 1123.9,1604.4 1122.9,1596.5 1121.9,1588.3 1121,1580 1120.1,1571.5 1119.3,1562.7 1118.4,1553.6 1117.6,1544.3 1117,1534.7 1116.5,1525 1116.2,1514.7 1116,1503.8 1116,1492.7 1116,1481.7 1116.2,1471.4 1116.5,1462 1116.9,1454.2 1117.6,1447.7 1118.3,1441.8 1119.1,1435.7 1119.8,1428.7 1120.5,1420 1121.1,1409.1 1121.6,1396.3 1122.1,1382.7 1122.6,1369 1123.2,1356.1 1124,1345 1124.9,1335.9 1126,1328.3 1127.2,1321.4 1128.4,1314.9 1129.5,1307.9 1130.5,1300 1131.5,1291 1132.4,1281.3 1133.3,1271.3 1134.1,1261.2 1134.7,1251.4 1135,1242 1134.9,1233.8 1134.3,1226.6 1133.6,1219.6 1132.8,1212 1132.2,1203.1 1132,1192 1132.2,1177.8 1132.8,1160.9 1133.5,1142.6 1134.3,1124.3 1134.8,1107.3 1135,1093 1134.9,1081.6 1134.5,1072.2 1134,1064.1 1133.3,1056.7 1132.5,1049.2 1131.5,1041 1130.1,1032.2 1128.2,1023.3 1126.2,1014.4 1124.3,1005.6 1123,996.7 1122.5,988 1123.2,979.3 1124.7,970.7 1126.8,962.1 1129,953.6 1131,945.2 1132.5,937 1133.3,929.1 1133.8,921.7 1134.1,914.4 1134.3,906.9 1134.6,898.8 1135,890 1135.6,880 1136.2,869.1 1136.9,857.7 1137.6,846.2 1138.3,835.2 1139,825 1139.6,815.7 1140.1,806.8 1140.6,798.3 1141.1,790.2 1141.7,782.5 1142.5,775 1143.5,768.2 1144.6,762.3 1145.9,756.8 1147.1,751 1148.2,744.6 1149,737 1149.4,728.5 1149.6,719.5 1149.6,709.9 1149.6,699.4 1149.7,687.8 1150,675 1150.6,660.2 1151.4,643.4 1152.4,625.5 1153.3,607.5 1154.2,590.4 1155,575 1155.6,561.1 1156.2,547.9 1156.7,535.6 1157.2,524.2 1157.6,513.9 1158,505 1158.2,498.5 1158.2,494.6 1158.2,491.8 1158.3,488.7 1158.7,483.9 1159.5,476 1160.8,464.5 1162.5,450.5 1164.4,434.8 1166.5,418.3 1168.8,401.7 1171,386 1173.2,371 1175.5,356 1177.9,341 1180.4,326 1183.1,311 1186,296 1189.3,281 1192.9,266 1196.7,251 1200.5,236 1204.1,221 1207.5,206 1210.7,190 1213.9,172.9 1217,155.8 1219.8,139.8 1222.2,126.1 1224,116 1225.1,110.1 1225.5,107.6 1225.5,107.4 1225.3,108.4 1225.1,109.7 1225,110"/>
<polygon fill="#ff8000" stroke="#ff8000" stroke-width="0.6" stroke-linejoin="round" points="449,105 449,105.5 448.9,105.5 448.8,105.9 448.8,107.3 448.8,110.4 449,116 449.3,125 449.8,136.9 450.3,150.6 450.9,164.8 451.5,178.3 452,190 452.5,199.7 452.9,208.4 453.4,216.5 453.9,224.2 454.4,231.9 455,240 455.7,248.3 456.5,256.6 457.3,264.9 458.2,273.3 459.1,281.6 460,290 460.9,298.6 461.8,307.5 462.7,316.4 463.7,325.1 464.8,333.4 466,341 467.4,348 469,354.6 470.8,360.7 472.5,366.3 474.3,371.5 476,376 477.8,380 479.7,383.3 481.6,386.2 483.4,388.6 484.9,390.5 486,392 493,398.5 500,392 501.2,390.5 503,388.6 505.1,386.2 507.2,383.3 509.3,380 511,376 512.4,371.5 513.6,366.3 514.8,360.7 515.8,354.6 516.9,348 518,341 519.2,333.4 520.5,325.1 521.8,316.4 523,307.5 524.1,298.6 525,290 525.7,281.6 526.3,273.3 526.8,264.9 527.2,256.6 527.6,248.3 528,240 528.4,231.9 528.7,224.2 529.1,216.5 529.4,208.4 529.7,199.7 530,190 530.4,178.3 530.7,164.8 531.1,150.6 531.5,136.9 531.8,125 532,116 532.1,110.4 532.1,107.3 532.1,105.9 532.1,105.5 532,105.5 532,105"/>
<polygon fill="#ff8000" stroke="#ff8000" stroke-width="0.6" stroke-linejoin="round" points="1138,105 1138.1,105.3 1138.4,104.9 1138.7,104.9 1138.8,106.1 1138.5,109.5 1137.5,116 1135.9,126.4 1133.7,140.1 1131.2,156.1 1128.3,173.1 1125.2,190.1 1122,206 1118.4,221 1114.4,236 1110.1,251 1105.9,266 1102,281 1098.8,296 1096.1,311.5 1093.9,327.7 1092.1,343.8 1090.5,359.3 1089,373.6 1087.5,386 1086.1,396.1 1084.9,404.3 1083.8,411.3 1082.8,417.7 1081.9,424 1081,431 1080.2,438.3 1079.4,445.4 1078.8,452.5 1078.2,459.8 1077.6,467.6 1077,476 1076.5,485.3 1076,495.3 1075.5,505.7 1075,516.3 1074.5,526.8 1074,537 1073.4,547 1072.7,557 1072.1,567 1071.4,576.7 1070.7,586.1 1070,595 1069.3,603.3 1068.6,611 1068,618.4 1067.3,625.6 1066.6,632.7 1066,640 1065.4,647.3 1064.9,654.6 1064.5,661.8 1063.9,669.1 1063.3,676.4 1062.5,684 1061.6,691.7 1060.7,699.4 1059.6,707.3 1058.4,715.3 1056.9,723.5 1055,732 1052.5,741.4 1049.3,751.9 1045.8,762.5 1042.4,772.5 1039.5,780.9 1037.5,787 1040,835 1034,889 1008,922 995,937.5 974,987.5 976,1042.5 971,1092.5 935,1141 945,1194 975,1212.5 1001,1242.5 987.5,1296 962.5,1299 932.5,1289 900,1285 862.5,1291 875,1310 882.5,1338 887.5,1350 895,1395 875,1412.5 850,1424 775,1425 737.5,1431 717.5,1420 700,1385 690,1347.5 693,1340 747.5,1245 752.5,1192.5 797.5,1090 751,1042.5 755,987.5 776,937.5 772.5,890 787.5,835 825,787.5 832.5,732.5 847.5,682.5 891,636 891.1,629.1 891.2,619.3 891.4,607.8 891.4,595.9 891.3,584.5 891,575 890.3,567.4 889.2,560.8 888,554.8 886.8,549.1 885.7,543.5 885,537.5 884.6,531.1 884.5,524.5 884.5,517.9 884.6,511.5 884.8,505.5 885,500 885.3,495.5 885.8,491.8 886.3,488.5 886.9,485.1 887.3,481.1 887.5,476 887.5,469.7 887.5,462.6 887.3,454.8 887.1,446.8 886.6,438.7 886,431 885.1,424 884.1,417.7 882.8,411.3 881.5,404.3 880.2,396.1 879,386 877.9,373.6 877,359.3 876,343.8 875,327.7 873.9,311.5 872.5,296 870.8,281 868.8,266 866.7,251 864.6,236 862.7,221 861,206 859.6,190.1 858.4,173.1 857.3,156.1 856.4,140.1 855.6,126.4 855,116 854.7,109.5 854.6,106.1 854.6,104.9 854.8,104.9 854.9,105.3 855,105"/>
<polygon fill="#ff8000" stroke="#ff8000" stroke-width="0.6" stroke-linejoin="round" points="711.2,1495 720,1475 740,1467 780,1477.5 830,1487.5 850,1507.5 865,1540 875,1575 880,1600 905,1649 905,1655 740,1655 740,1649 745,1625 751.2,1597.5 730,1570 717.5,1530"/>
<polygon fill="#ff4000" stroke="#ff4000" stroke-width="0.6" stroke-linejoin="round" points="890.8,105 890.6,105.1 890.3,104.9 890.3,107.4 890.8,116 891.8,132.9 893.2,156.1 895.1,181.6 897.5,206 900.8,228.5 905,251 909.1,273.5 912.5,296 914.7,319.6 916.2,343.8 917.7,366.7 920,386 923.7,400.4 928.3,411.3 932.8,420.8 936.2,431 938.3,442.7 939.5,454.8 940.1,466.2 940.5,476 940.5,483.3 940,488.8 939.3,493.9 938.8,500 938.1,508 937.4,517 937,525.6 937.5,532.5 939,537.1 941.3,540.2 944.2,542.5 947.5,545 951.3,548 955.8,551.1 960.4,553.6 965,555 969.5,555.1 974.1,554.2 978.5,552.5 982.5,550 986.3,546.9 989.8,543 992.9,538.2 995,532.5 995.9,525.2 995.8,516.7 995.3,507.9 995,500 994.8,493.9 994.5,488.8 994.4,483.3 995,476 996.6,466.2 998.9,454.8 1001.4,442.7 1003.8,431 1005.8,420.8 1007.8,411.3 1009.8,400.4 1012,386 1014.3,366.7 1016.7,343.8 1019.3,319.6 1022.5,296 1026.6,273.5 1031.4,251 1036.1,228.5 1040,206 1043,181.6 1045.5,156.1 1047.4,132.9 1048.8,116 1049.4,107.4 1049.3,104.9 1049,105.1 1048.8,105"/>
<polygon fill="#9900ff" stroke="#9900ff" stroke-width="0.6" stroke-linejoin="round" points="205,939 211.4,939.4 227.4,949.7 234.2,965.6 242.2,986.2 243.3,1011 241.8,1048 238.8,1089 231.9,1116 220.5,1142.4 227.4,1157.3 233.1,1191.5 227.4,1216.6 216.4,1241.7 222.8,1266.8 227.4,1289.6 228,1320 226.2,1345 245,1392.5 248,1450 245,1490 237.5,1555 230,1597.5 223.8,1605 212.5,1611.2 205,1611.2"/>
</g>
<g stroke="#1e1e1e" stroke-width="3.5" fill="none">
<line x1="422.4" y1="116" x2="422.4" y2="131.2"/>
<line x1="422.4" y1="1648.5" x2="422.4" y2="1633.3"/>
<line x1="634.2" y1="116" x2="634.2" y2="131.2"/>
<line x1="634.2" y1="1648.5" x2="634.2" y2="1633.3"/>
<line x1="845.8" y1="116" x2="845.8" y2="131.2"/>
<line x1="845.8" y1="1648.5" x2="845.8" y2="1633.3"/>
<line x1="1061.2" y1="116" x2="1061.2" y2="131.2"/>
<line x1="1061.2" y1="1648.5" x2="1061.2" y2="1633.3"/>
<line x1="1273.2" y1="116" x2="1273.2" y2="131.2"/>
<line x1="1273.2" y1="1648.5" x2="1273.2" y2="1633.3"/>
<line x1="1485" y1="116" x2="1485" y2="131.2"/>
<line x1="1485" y1="1648.5" x2="1485" y2="1633.3"/>
<line x1="1696.8" y1="116" x2="1696.8" y2="131.2"/>
<line x1="1696.8" y1="1648.5" x2="1696.8" y2="1633.3"/>
<line x1="210.8" y1="205.5" x2="226" y2="205.5"/>
<line x1="1908.8" y1="205.5" x2="1893.6" y2="205.5"/>
<line x1="210.8" y1="385" x2="226" y2="385"/>
<line x1="1908.8" y1="385" x2="1893.6" y2="385"/>
<line x1="210.8" y1="564.8" x2="226" y2="564.8"/>
<line x1="1908.8" y1="564.8" x2="1893.6" y2="564.8"/>
<line x1="210.8" y1="747.4" x2="226" y2="747.4"/>
<line x1="1908.8" y1="747.4" x2="1893.6" y2="747.4"/>
<line x1="210.8" y1="927" x2="226" y2="927"/>
<line x1="1908.8" y1="927" x2="1893.6" y2="927"/>
<line x1="210.8" y1="1106.5" x2="226" y2="1106.5"/>
<line x1="1908.8" y1="1106.5" x2="1893.6" y2="1106.5"/>
<line x1="210.8" y1="1289.6" x2="226" y2="1289.6"/>
<line x1="1908.8" y1="1289.6" x2="1893.6" y2="1289.6"/>
<line x1="210.8" y1="1469.3" x2="226" y2="1469.3"/>
<line x1="1908.8" y1="1469.3" x2="1893.6" y2="1469.3"/>
</g>
<rect x="210.8" y="116" width="1698" height="1532.5" fill="none" stroke="#1e1e1e" stroke-width="3.7"/>
<g>
<rect x="2012.9" y="1552.42" width="89.8" height="96.38" fill="#9900ff"/>
<rect x="2012.9" y="1456.64" width="89.8" height="96.38" fill="#000080"/>
<rect x="2012.9" y="1360.86" width="89.8" height="96.38" fill="#0000ff"/>
<rect x="2012.9" y="1265.08" width="89.8" height="96.38" fill="#0055ff"/>
<rect x="2012.9" y="1169.29" width="89.8" height="96.38" fill="#00aaff"/>
<rect x="2012.9" y="1073.51" width="89.8" height="96.38" fill="#00ffff"/>
<rect x="2012.9" y="977.73" width="89.8" height="96.38" fill="#00ff80"/>
<rect x="2012.9" y="881.95" width="89.8" height="96.38" fill="#00ff00"/>
<rect x="2012.9" y="786.17" width="89.8" height="96.38" fill="#ffff00"/>
<rect x="2012.9" y="690.39" width="89.8" height="96.38" fill="#ffe000"/>
<rect x="2012.9" y="594.61" width="89.8" height="96.38" fill="#ffc000"/>
<rect x="2012.9" y="498.82" width="89.8" height="96.38" fill="#ffa000"/>
<rect x="2012.9" y="403.04" width="89.8" height="96.38" fill="#ff8000"/>
<rect x="2012.9" y="307.26" width="89.8" height="96.38" fill="#ff6000"/>
<rect x="2012.9" y="211.48" width="89.8" height="96.38" fill="#ff4000"/>
<rect x="2012.9" y="115.7" width="89.8" height="96.38" fill="#ff0000"/>
</g>
<g stroke="#1e1e1e" stroke-width="3.5" fill="none">
<line x1="2102.7" y1="1497.87" x2="2087.5" y2="1497.87"/>
<line x1="2102.7" y1="1343.94" x2="2087.5" y2="1343.94"/>
<line x1="2102.7" y1="1190.01" x2="2087.5" y2="1190.01"/>
<line x1="2102.7" y1="1036.08" x2="2087.5" y2="1036.08"/>
<line x1="2102.7" y1="882.15" x2="2087.5" y2="882.15"/>
<line x1="2102.7" y1="728.22" x2="2087.5" y2="728.22"/>
<line x1="2102.7" y1="574.29" x2="2087.5" y2="574.29"/>
<line x1="2102.7" y1="420.36" x2="2087.5" y2="420.36"/>
<line x1="2102.7" y1="266.43" x2="2087.5" y2="266.43"/>
</g>
<rect x="2012.9" y="116" width="89.8" height="1532.5" fill="none" stroke="#1e1e1e" stroke-width="3.7"/>
<g class="sans">
<text x="190.9" y="1736.3" font-size="61.5" textLength="32.7" lengthAdjust="spacingAndGlyphs">0</text>
<text x="388.5" y="1736.3" font-size="61.5" textLength="65.3" lengthAdjust="spacingAndGlyphs">20</text>
<text x="602.2" y="1736.3" font-size="61.5" textLength="65.3" lengthAdjust="spacingAndGlyphs">40</text>
<text x="814.8" y="1736.3" font-size="61.5" textLength="65.3" lengthAdjust="spacingAndGlyphs">60</text>
<text x="1026.9" y="1736.3" font-size="61.5" textLength="65.3" lengthAdjust="spacingAndGlyphs">80</text>
<text x="1224.8" y="1736.3" font-size="61.5" textLength="98" lengthAdjust="spacingAndGlyphs">100</text>
<text x="1439.8" y="1736.3" font-size="61.5" textLength="98" lengthAdjust="spacingAndGlyphs">120</text>
<text x="1651.6" y="1736.3" font-size="61.5" textLength="98" lengthAdjust="spacingAndGlyphs">140</text>
<text x="1864.1" y="1736.3" font-size="61.5" textLength="98" lengthAdjust="spacingAndGlyphs">160</text>
<text x="149.6" y="227.5" font-size="61.5" textLength="32.7" lengthAdjust="spacingAndGlyphs">2</text>
<text x="149.6" y="411.1" font-size="61.5" textLength="32.7" lengthAdjust="spacingAndGlyphs">4</text>
<text x="149.6" y="590.6" font-size="61.5" textLength="32.7" lengthAdjust="spacingAndGlyphs">6</text>
<text x="149.6" y="770.4" font-size="61.5" textLength="32.7" lengthAdjust="spacingAndGlyphs">8</text>
<text x="117" y="953" font-size="61.5" textLength="65.3" lengthAdjust="spacingAndGlyphs">10</text>
<text x="117" y="1132.8" font-size="61.5" textLength="65.3" lengthAdjust="spacingAndGlyphs">12</text>
<text x="117" y="1312.7" font-size="61.5" textLength="65.3" lengthAdjust="spacingAndGlyphs">14</text>
<text x="117" y="1495.8" font-size="61.5" textLength="65.3" lengthAdjust="spacingAndGlyphs">16</text>
<text x="117" y="1676.3" font-size="61.5" textLength="65.3" lengthAdjust="spacingAndGlyphs">18</text>
<text x="2124.6" y="1673.1" font-size="56.5" textLength="30" lengthAdjust="spacingAndGlyphs">0</text>
<text x="2124.6" y="1519.4" font-size="56.5" textLength="30" lengthAdjust="spacingAndGlyphs">5</text>
<text x="2124.6" y="1365.8" font-size="56.5" textLength="60" lengthAdjust="spacingAndGlyphs">10</text>
<text x="2124.6" y="1212.1" font-size="56.5" textLength="60" lengthAdjust="spacingAndGlyphs">15</text>
<text x="2124.6" y="1058.4" font-size="56.5" textLength="60" lengthAdjust="spacingAndGlyphs">20</text>
<text x="2124.6" y="904.8" font-size="56.5" textLength="60" lengthAdjust="spacingAndGlyphs">25</text>
<text x="2124.6" y="751.1" font-size="56.5" textLength="60" lengthAdjust="spacingAndGlyphs">30</text>
<text x="2124.6" y="597.4" font-size="56.5" textLength="60" lengthAdjust="spacingAndGlyphs">35</text>
<text x="2124.6" y="443.7" font-size="56.5" textLength="60" lengthAdjust="spacingAndGlyphs">40</text>
<text x="2124.6" y="290.1" font-size="56.5" textLength="60" lengthAdjust="spacingAndGlyphs">45</text>
<text x="2124.6" y="136.4" font-size="56.5" textLength="60" lengthAdjust="spacingAndGlyphs">50</text>
</g>
<text class="serif" xml:space="default"><tspan font-size="65" x="966" y="1807.7" textLength="25" lengthAdjust="spacingAndGlyphs">r</tspan> <tspan font-size="74" x="1016.5" y="1809.5" textLength="19.5" lengthAdjust="spacingAndGlyphs">(</tspan><tspan font-size="65" x="1039" y="1807.7" textLength="90" lengthAdjust="spacingAndGlyphs">km</tspan><tspan font-size="74" x="1130.5" y="1809.5" textLength="19.5" lengthAdjust="spacingAndGlyphs">)</tspan></text>
<g transform="translate(71.9,1011.3) rotate(-90)">
<text class="serif"><tspan font-size="65" x="-0.5" y="0" textLength="22" lengthAdjust="spacingAndGlyphs">t</tspan> <tspan font-size="74" x="55" y="1.8" textLength="19.5" lengthAdjust="spacingAndGlyphs">(</tspan><tspan font-size="65" x="75" y="0" textLength="154.5" lengthAdjust="spacingAndGlyphs">hours</tspan><tspan font-size="74" x="235.2" y="1.8" textLength="19.5" lengthAdjust="spacingAndGlyphs">)</tspan></text>
</g>
<text class="serif"><tspan font-size="70" x="395.7" y="78.2" textLength="294.8" lengthAdjust="spacingAndGlyphs">Hovmoller</tspan> <tspan font-size="70" x="711.7" y="78.2" textLength="248.3" lengthAdjust="spacingAndGlyphs">Diagram</tspan> <tspan font-size="70" x="980" y="78.2" textLength="56.7" lengthAdjust="spacingAndGlyphs">of</tspan> <tspan font-size="70" x="1055.5" y="78.2" textLength="44" lengthAdjust="spacingAndGlyphs" font-style="italic">V</tspan><tspan font-size="50" x="1093.5" y="87.7" textLength="31" lengthAdjust="spacingAndGlyphs" font-style="italic">T</tspan> <tspan font-size="79" x="1155.5" y="80.2" textLength="20.5" lengthAdjust="spacingAndGlyphs">(</tspan><tspan font-size="70" x="1178" y="78.2" textLength="53.7" lengthAdjust="spacingAndGlyphs">m</tspan> <tspan font-size="70" x="1256.7" y="78.2" textLength="25" lengthAdjust="spacingAndGlyphs">s</tspan><tspan font-size="50" x="1283.5" y="60" textLength="33" lengthAdjust="spacingAndGlyphs">&#8722;</tspan><tspan font-size="50" x="1318.5" y="55.7" textLength="21" lengthAdjust="spacingAndGlyphs">1</tspan><tspan font-size="79" x="1344.5" y="80.2" textLength="20.5" lengthAdjust="spacingAndGlyphs">)</tspan> <tspan font-size="70" x="1391.7" y="78.2" textLength="56.6" lengthAdjust="spacingAndGlyphs">at</tspan> <tspan font-size="70" x="1473.3" y="78.2" textLength="36.7" lengthAdjust="spacingAndGlyphs" font-style="italic">&#963;</tspan> <tspan font-size="70" x="1534" y="85.2" textLength="48.5" lengthAdjust="spacingAndGlyphs">=</tspan> <tspan font-size="70" x="1603.5" y="78.2" textLength="120" lengthAdjust="spacingAndGlyphs">0.95</tspan></text>
</g>
</svg>
</body></html>
